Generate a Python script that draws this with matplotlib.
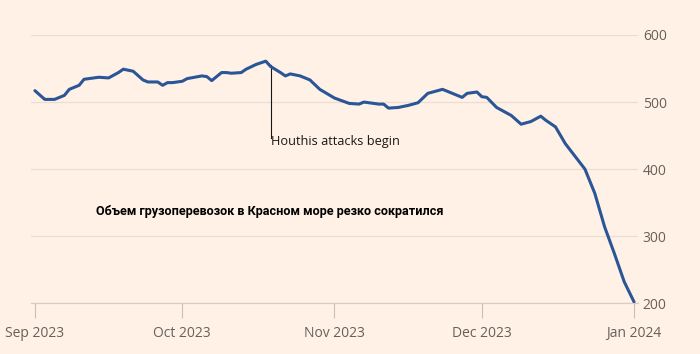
import matplotlib
matplotlib.use("Agg")
import matplotlib.pyplot as plt
import matplotlib.dates as mdates
import pandas as pd

dates = ["2023-09-01", "2023-09-03", "2023-09-05", "2023-09-07", "2023-09-08", "2023-09-10",
         "2023-09-11", "2023-09-12", "2023-09-14", "2023-09-16", "2023-09-18", "2023-09-19",
         "2023-09-21", "2023-09-23", "2023-09-24", "2023-09-26", "2023-09-27", "2023-09-28",
         "2023-09-29", "2023-10-01", "2023-10-02", "2023-10-05", "2023-10-06", "2023-10-07",
         "2023-10-09", "2023-10-10", "2023-10-11", "2023-10-13", "2023-10-14", "2023-10-16",
         "2023-10-18", "2023-10-19", "2023-10-21", "2023-10-22", "2023-10-23", "2023-10-25",
         "2023-10-27", "2023-10-29", "2023-11-01", "2023-11-04", "2023-11-06", "2023-11-07",
         "2023-11-10", "2023-11-11", "2023-11-12", "2023-11-14", "2023-11-16", "2023-11-18",
         "2023-11-20", "2023-11-23", "2023-11-25", "2023-11-27", "2023-11-28", "2023-11-30",
         "2023-12-01", "2023-12-02", "2023-12-04", "2023-12-07", "2023-12-09", "2023-12-11",
         "2023-12-13", "2023-12-14", "2023-12-16", "2023-12-18", "2023-12-22", "2023-12-24",
         "2023-12-26", "2023-12-28", "2023-12-30", "2024-01-01"]
values = [517, 504, 504, 510, 519, 525,
          534, 535, 537, 536, 544, 549,
          546, 533, 530, 530, 525, 529,
          529, 531, 535, 539, 538, 532,
          544, 544, 543, 544, 549, 556,
          561, 553, 544, 539, 542, 539,
          533, 519, 506, 498, 497, 500,
          497, 497, 491, 492, 495, 499,
          513, 519, 513, 507, 513, 515,
          508, 507, 492, 480, 467, 471,
          479, 473, 463, 438, 400, 364,
          314, 274, 232, 202]

x_ticks = ["2023-09-01", "2023-10-01", "2023-11-01", "2023-12-01", "2024-01-01"]
x_tick_labels = ["Sep 2023", "Oct 2023", "Nov 2023", "Dec 2023", "Jan 2024"]
y_ticks = [200, 300, 400, 500, 600]

annotation_date = "2023-10-19"
annotation_value = 556
annotation_text = "Houthis attacks begin"
title_text = "Объем грузоперевозок в Красном море резко сократился"

bg = "#FFF1E5"
dt = pd.to_datetime(dates)
xt = pd.to_datetime(x_ticks)

fig = plt.figure(figsize=(7.0, 3.54), dpi=100, facecolor=bg)
ax = fig.add_axes([31/700, 1 - 303.3/354, (638-31)/700, (303.3-35)/354])
ax.set_facecolor(bg)

ax.plot(dt, values, color="#2a5597", linewidth=2.2, solid_joinstyle="round", solid_capstyle="round", zorder=3)

ax.set_ylim(200, 600)
ax.set_xlim(pd.Timestamp("2023-09-01") - pd.Timedelta(days=0.8), pd.Timestamp("2024-01-01") + pd.Timedelta(days=0.8))

ax.set_yticks(y_ticks)
ax.yaxis.tick_right()
ax.tick_params(axis="y", length=0, pad=3.5, labelsize=10, labelcolor="#66605c")
ax.set_xticks(xt)
ax.set_xticklabels(x_tick_labels)
ax.tick_params(axis="x", length=11, width=0.8, color="#c8beb5", pad=5, labelsize=10, labelcolor="#66605c")
for lab in ax.get_xticklabels() + ax.get_yticklabels():
    lab.set_family("Open Sans")

ax.grid(axis="y", color="#e9ded5", linewidth=0.9)
ax.set_axisbelow(True)
for s in ["top", "left", "right"]:
    ax.spines[s].set_visible(False)
ax.spines["bottom"].set_color("#d9cdc3")
ax.spines["bottom"].set_linewidth(0.9)

ad = pd.Timestamp(annotation_date)
ax.plot([ad, ad], [annotation_value, 446], color="#1a1817", linewidth=0.8, zorder=2)
ax.text(ad, 441, annotation_text, ha="left", va="center", fontsize=9.2, color="#1a1817", family="Open Sans")

fig.text(270/700, 1 - 212/354, title_text, ha="center", va="center", fontsize=9.1,
         fontweight="bold", color="#000000", family="Roboto")

fig.savefig("out.png", dpi=100, facecolor=bg)
